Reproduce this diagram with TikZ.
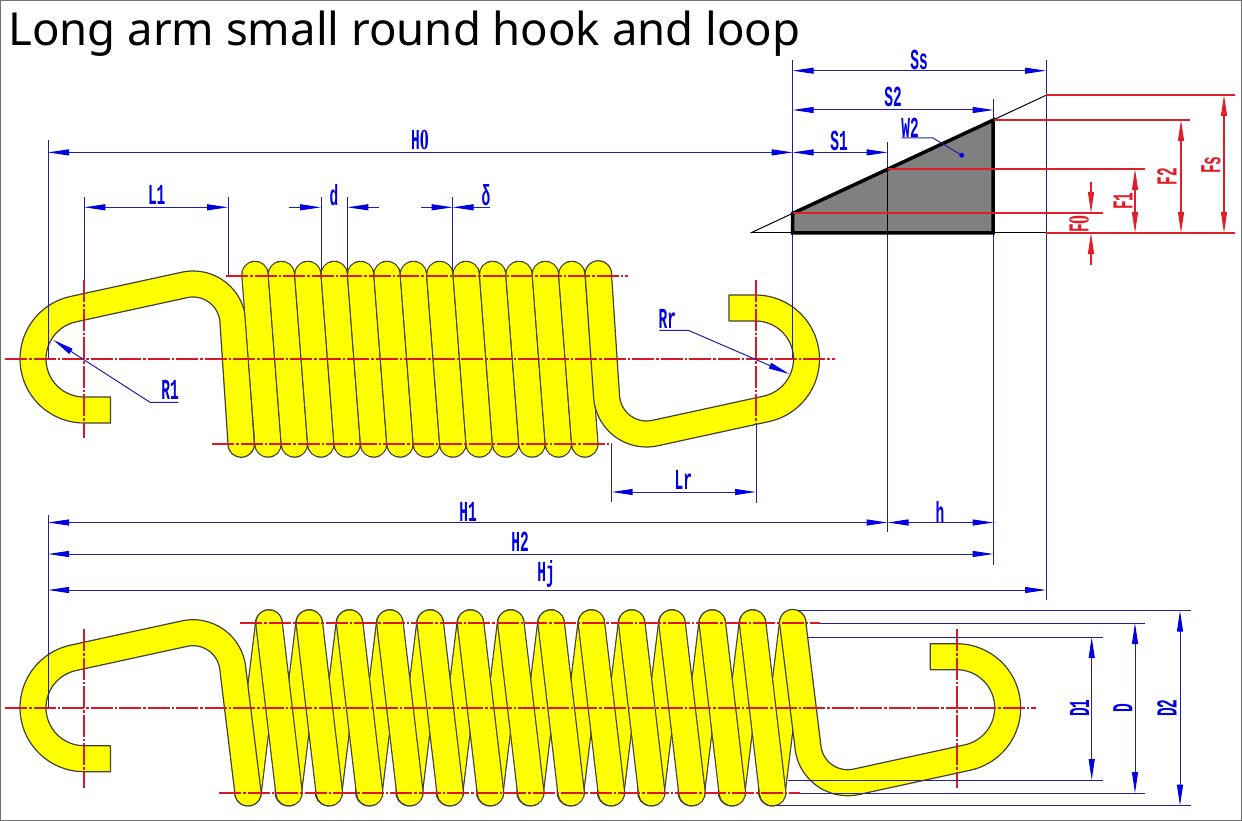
\documentclass[tikz,border=0pt]{standalone}
\usepackage{fontspec}
\setmainfont{Noto Sans}
\newfontfamily\dimfont[FakeStretch=0.5]{Liberation Mono}
\newfontfamily\zerofont[FakeStretch=0.62]{Liberation Serif}
\newcommand\zeroglyph{{\zerofont\bfseries 0}}
\usetikzlibrary{arrows.meta}
\definecolor{dimline}{HTML}{2020A0}
\definecolor{dimtip}{HTML}{0000E0}
\definecolor{redline}{HTML}{E01E28}
\definecolor{axisred}{HTML}{D81828}
\definecolor{wirey}{HTML}{FFFF00}
\definecolor{wedgegrey}{HTML}{808080}
\definecolor{framec}{HTML}{707070}
\tikzset{
  wire/.style={draw=black!85!yellow,fill=wirey,line width=1.2pt,line join=round},
  coilout/.style={draw=black!85!yellow,line width=27.6pt,line cap=round},
  coilin/.style={draw=wirey,line width=25.2pt,line cap=round},
  bl/.style={draw=dimline,line width=1pt},
  rl/.style={draw=redline,line width=1.1pt},
  cl/.style={draw=axisred,line width=1.1pt,dash pattern=on 22pt off 2pt on 2.5pt off 2pt},
  bdim/.style={bl,arrows={Triangle[length=21pt,width=6pt,color=dimtip]-Triangle[length=21pt,width=6pt,color=dimtip]}},
  bone/.style={bl,arrows={-Triangle[length=21pt,width=6pt,color=dimtip]}},
  rdim/.style={rl,arrows={Triangle[length=21pt,width=6pt,color=redline]-Triangle[length=21pt,width=6pt,color=redline]}},
  rone/.style={rl,arrows={-Triangle[length=21pt,width=6pt,color=redline]}},
  bt/.style={text=dimtip,font=\dimfont\bfseries\fontsize{29}{29}\selectfont,inner sep=0pt},
  rt/.style={text=redline,font=\dimfont\bfseries\fontsize{29}{29}\selectfont,inner sep=0pt,rotate=90},
  bv/.style={bt,rotate=90},
}
\newcommand\hookwire[2]{%
  \begin{scope}[#1]
  \filldraw[wire] (110.5,423) -- (84,423)
   -- plot[domain=90:257.3,samples=40,variable=\t] ({84+64*cos(\t)},{359+64*sin(\t)})
   -- plot[domain=257.3:355.8,samples=30,variable=\t] ({193+53*cos(\t)},{324+53*sin(\t)})
   -- plot[domain=0:180,samples=30,variable=\t] ({#2+13.2*cos(\t)},{444+13.2*sin(\t)})
   -- plot[domain=355.8:257.3,samples=30,variable=\t] ({193+27*cos(\t)},{324+27*sin(\t)})
   -- plot[domain=257.3:90,samples=40,variable=\t] ({84+38*cos(\t)},{359+38*sin(\t)})
   -- (110.5,397) -- cycle;
  \end{scope}}
\newcommand\coilbar[4]{%
  \draw[coilout] (#1,#2) -- (#3,#4);
  \draw[coilin] (#1,#2) -- (#3,#4);}
\begin{document}
\begin{tikzpicture}[x=1pt,y=-1pt]
\useasboundingbox (0,0) rectangle (1242,821);
\fill[white] (0,0) rectangle (1242,821);

% --- upper spring
\hookwire{}{241.2}
\foreach \i in {0,...,12}{
  \pgfmathsetmacro\xa{255+26.4*\i}
  \pgfmathsetmacro\xb{268+26.4*\i}
  \coilbar{\xa}{274.5}{\xb}{444}
}
\hookwire{shift={(839.5,718)},xscale=-1,yscale=-1}{241.2}

% --- lower spring
\foreach \i in {0,...,13}{
  \pgfmathsetmacro\xa{248+40.3*\i}
  \pgfmathsetmacro\xb{268.8+40.3*\i}
  \coilbar{\xa}{792.7}{\xb}{623}
}
\hookwire{shift={(0,348.7)}}{248}
\foreach \i in {0,...,12}{
  \pgfmathsetmacro\xa{269+40.3*\i}
  \pgfmathsetmacro\xb{289+40.3*\i}
  \coilbar{\xa}{623}{\xb}{792.7}
}
\hookwire{shift={(1040.7,1066.7)},xscale=-1,yscale=-1}{248}

% --- blue extension lines
\draw[bl] (48,140) -- (48,359);
\draw[bl] (48,515) -- (48,708);
\draw[bl] (84.3,197) -- (84.3,280);
\draw[bl] (228,197) -- (228,276);
\draw[bl] (321,197) -- (321,270);
\draw[bl] (347.3,197) -- (347.3,270);
\draw[bl] (452.7,197) -- (452.7,270);
\draw[bl] (611.7,444) -- (611.7,502);
\draw[bl] (756,423) -- (756,503);
\draw[bl] (792.7,60) -- (792.7,358);
\draw[bl] (887.5,142) -- (887.5,532);
\draw[bl] (993.5,99) -- (993.5,565);
\draw[bl] (1046,60) -- (1046,600);

% --- force wedge
\filldraw[fill=wedgegrey,draw=black,line width=3.5pt,line join=miter] (792.7,213.4) -- (993,120.2) -- (993,233) -- (792.7,233) -- cycle;
\draw[black,line width=1pt] (750.5,233) -- (1046,95.3);
\draw[black,line width=1pt] (750.5,233) -- (1046,233);
\draw[black,line width=1pt] (887.5,169.3) -- (887.5,233);

% --- centre lines
\draw[cl] (5,359) -- (835,359);
\draw[cl] (84,280) -- (84,438);
\draw[cl] (756,280) -- (756,423);
\draw[cl] (226,276) -- (628,276);
\draw[cl] (212,444) -- (612,444);
\draw[cl] (5,708) -- (1036,708);
\draw[cl] (84,629) -- (84,788);
\draw[cl] (957,629) -- (957,788);
\draw[cl] (240,623) -- (820,623);
\draw[cl] (219,793) -- (800,793);

% --- blue dimensions
\draw[bdim] (48,152.4) -- (792.7,152.4);
\draw[bdim] (792.7,152.4) -- (887.5,152.4);
\draw[bdim] (792.7,110) -- (993.5,110);
\draw[bdim] (792.7,70.7) -- (1046,70.7);
\draw[bdim] (84.3,207.3) -- (228,207.3);
\draw[bone] (289,207.3) -- (321,207.3);
\draw[bone] (379.3,207.3) -- (347.3,207.3);
\draw[bone] (421,207.3) -- (452.7,207.3);
\draw[bone] (490,207.3) -- (452.7,207.3);
\draw[bdim] (611.7,492) -- (756,492);
\draw[bdim] (48,522.5) -- (887.5,522.5);
\draw[bdim] (887.5,522.5) -- (993.5,522.5);
\draw[bdim] (48,554) -- (993.5,554);
\draw[bdim] (48,590) -- (1046,590);

% --- leaders
\draw[bone] (178.3,402.3) -- (150,402.3) -- (53.3,340);
\draw[bone] (659.3,330.3) -- (688.3,330.3) -- (789.3,374);
\draw[bl] (901.7,138) -- (933,138) -- (961.7,155.3);
\fill[dimtip] (961.7,155.3) circle (2.4pt);

% --- red force lines
\draw[rl] (1046,95) -- (1235,95);
\draw[rl] (993.5,120) -- (1190,120);
\draw[rl] (887.5,169) -- (1145,169);
\draw[rl] (792.7,213) -- (1102.7,213);
\draw[rl] (1046,233) -- (1235,233);
\draw[rdim] (1224,95) -- (1224,233);
\draw[rdim] (1181,120) -- (1181,233);
\draw[rdim] (1135,169) -- (1135,233);
\draw[rone] (1091,181.7) -- (1091,213);
\draw[rone] (1091,265) -- (1091,233);

% --- lower right diameters
\draw[bl] (798,610.7) -- (1190.7,610.7);
\draw[bl] (776,805.7) -- (1190.7,805.7);
\draw[bl] (820,623) -- (1145,623);
\draw[bl] (800,793) -- (1145,793);
\draw[bl] (806.7,637) -- (1102.7,637);
\draw[bl] (788,780) -- (1102.7,780);
\draw[bdim] (1091.7,637) -- (1091.7,780);
\draw[bdim] (1135,623) -- (1135,793);
\draw[bdim] (1180,610.7) -- (1180,805.7);

% --- labels
\node[anchor=base west,inner sep=0pt,font=\fontsize{45.5}{50}\selectfont] (title) at (8,45.7) {Long arm small round hook and loop};
\node[bt] (lH0) at (420,140) {H\zeroglyph};
\node[bt] (lS1) at (839,141) {S1};
\node[bt] (lS2) at (893,97) {S2};
\node[bt] (lSs) at (919,60) {Ss};
\node[bt] (lW2) at (910,128) {W2};
\node[bt] (lL1) at (156.7,195) {L1};
\node[bt] (ld) at (334,195) {d};
\node[bt] (ldelta) at (486,195) {δ};
\node[bt] (lR1) at (170,390) {R1};
\node[bt] (lRr) at (667.3,319.3) {Rr};
\node[bt] (lLr) at (683.3,480) {Lr};
\node[bt] (lH1) at (468,512) {H1};
\node[bt] (lh) at (940,512) {h};
\node[bt] (lH2) at (520,542) {H2};
\node[bt] (lHj) at (546,574) {Hj};
\node[rt] (lFs) at (1211,165) {Fs};
\node[rt] (lF2) at (1167,176.5) {F2};
\node[rt] (lF1) at (1123,201) {F1};
\node[rt] (lF0) at (1079,224) {F\zeroglyph};
\node[bv] (lD1) at (1079.5,708) {D1};
\node[bv] (lD) at (1122.7,708) {D};
\node[bv] (lD2) at (1167,708) {D2};

% --- frame
\draw[framec,line width=1.5pt] (0.5,0.5) rectangle (1241.5,820.5);
\end{tikzpicture}
\end{document}
